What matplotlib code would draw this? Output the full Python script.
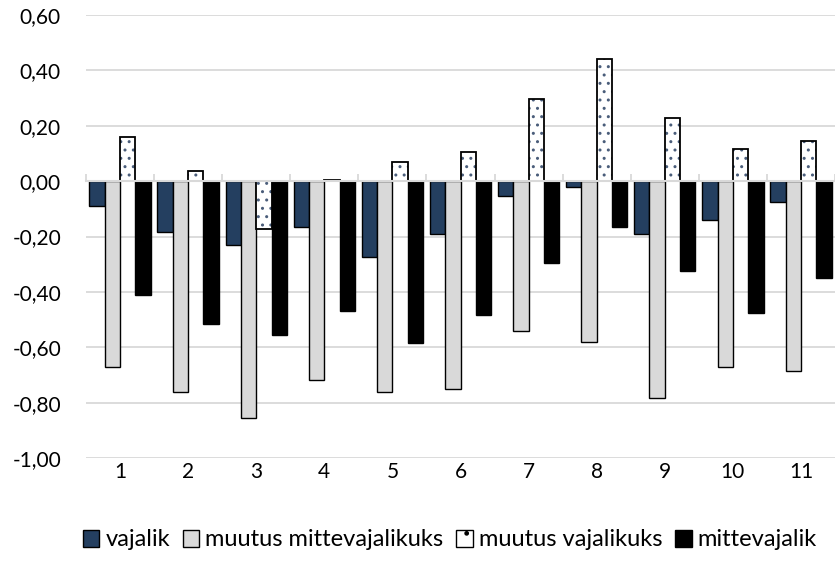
import numpy as np
import matplotlib
matplotlib.use("Agg")
from matplotlib import pyplot as plt
from matplotlib.patches import Patch

plt.rcParams['font.family'] = ['Lato', 'DejaVu Sans']
plt.rcParams['hatch.linewidth'] = 1.0

# data
categories = ['1', '2', '3', '4', '5', '6', '7', '8', '9', '10', '11']
series_names = ['vajalik', 'muutus mittevajalikuks', 'muutus vajalikuks', 'mittevajalik']
vajalik = [-0.09, -0.185, -0.23, -0.167, -0.275, -0.19, -0.054, -0.02, -0.19, -0.14, -0.077]
muutus_mittevajalikuks = [-0.67, -0.763, -0.857, -0.72, -0.76, -0.75, -0.54, -0.58, -0.785, -0.67, -0.685]
muutus_vajalikuks = [0.16, 0.036, -0.173, 0.003, 0.069, 0.105, 0.296, 0.44, 0.227, 0.115, 0.145]
mittevajalik = [-0.41, -0.517, -0.555, -0.47, -0.585, -0.485, -0.297, -0.165, -0.325, -0.475, -0.35]
y_ticks = [-1.0, -0.8, -0.6, -0.4, -0.2, 0.0, 0.2, 0.4, 0.6]

navy = '#243F60'
grey = '#D9D9D9'
dots = '#4A5D7A'
grid = '#D9D9D9'

fig = plt.figure(figsize=(8.35, 5.63), dpi=100)
ax = fig.add_axes([86 / 835, 1 - 458 / 563, 1 - 86 / 835, (458 - 15) / 563])

x = np.arange(1, len(categories) + 1)
w = 0.225
offs = np.array([-1.5, -0.5, 0.5, 1.5]) * w

ax.bar(x + offs[0], vajalik, w, color=navy, edgecolor='black', linewidth=1.0, zorder=3)
ax.bar(x + offs[1], muutus_mittevajalikuks, w, color=grey, edgecolor='black', linewidth=1.0, zorder=3)
# dotted bars: hatch in blue-grey, outline in black
ax.bar(x + offs[2], muutus_vajalikuks, w, color='white', edgecolor=dots, hatch='..', linewidth=0, zorder=3)
ax.bar(x + offs[2], muutus_vajalikuks, w, fill=False, edgecolor='black', linewidth=1.3, zorder=4)
ax.bar(x + offs[3], mittevajalik, w, color='black', edgecolor='black', linewidth=1.0, zorder=3)

ax.set_xlim(0.5, len(categories) + 0.5)
ax.set_ylim(-1.0, 0.6)
ax.set_yticks(y_ticks)
ax.set_yticklabels([f"{v:.2f}".replace('.', ',') for v in y_ticks], fontsize=15)
ax.tick_params(axis='y', length=0, pad=18)
ax.yaxis.grid(True, color=grid, linewidth=1.3)
ax.set_axisbelow(True)

for s in ['left', 'right', 'top']:
    ax.spines[s].set_visible(False)

# horizontal axis sits at zero, with boundary ticks pointing up
ax.spines['bottom'].set_position(('data', 0))
ax.spines['bottom'].set_color(grid)
ax.spines['bottom'].set_linewidth(1.5)
ax.spines['bottom'].set_zorder(5)
ax.set_xticks(np.arange(0.5, len(categories) + 1, 1.0))
ax.set_xticklabels([])
ax.tick_params(axis='x', direction='in', length=5, width=1.3, color=grid)

# category labels below the plot
sec = ax.secondary_xaxis('bottom')
sec.set_xticks(x)
sec.set_xticklabels(categories, fontsize=15)
sec.tick_params(length=0, pad=3)
sec.spines['bottom'].set_visible(False)

handles = [
    Patch(facecolor=navy, edgecolor='black', linewidth=1.0),
    Patch(facecolor=grey, edgecolor='black', linewidth=1.0),
    Patch(facecolor='white', edgecolor='black', linewidth=1.0, hatch='.'),
    Patch(facecolor='black', edgecolor='black', linewidth=1.0),
]
fig.legend(handles, series_names, loc='center', bbox_to_anchor=(450 / 835, 1 - 540 / 563),
           ncol=4, frameon=False, fontsize=17, handlelength=0.7, handleheight=0.7,
           handletextpad=0.25, columnspacing=0.55)

plt.savefig('out.png', dpi=100)
